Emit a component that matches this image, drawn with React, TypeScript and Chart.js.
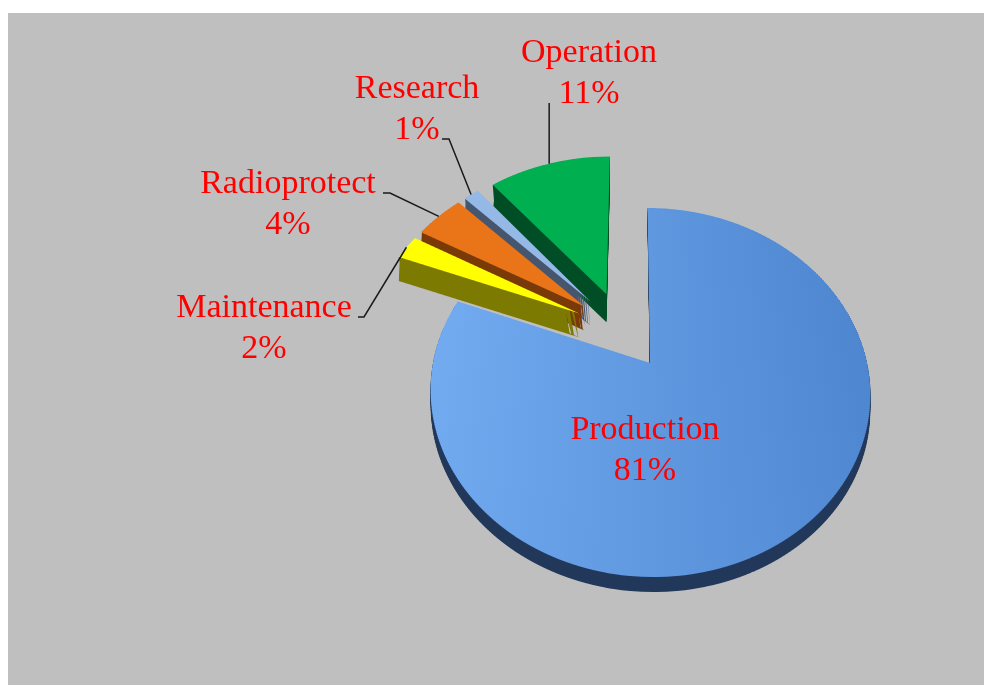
import React, { useEffect, useRef } from 'react';
import { Chart, registerables } from 'chart.js';

Chart.register(...registerables);

// ---- data ----
const CATEGORIES = ['Production', 'Maintenance', 'Radioprotect', 'Research', 'Operation'];
const VALUES = [80.9, 2.3, 4.4, 1.4, 11.0];

// ---- styles ----
const TOP_COLORS = ['#5c94df', '#ffff00', '#ea7518', '#95b9e6', '#00b050'];
const SIDE_COLORS = ['#22385a', '#7c7a00', '#7a3a08', '#46566e', '#004d26'];
const SIDE_DEPTH = [15, 24, 24, 24, 28];
const PROD_GRADIENT = ['#72abf0', '#4e86d0'];
const LABEL_COLOR = '#ff0000';
const LEADER_COLOR = '#1a1a1a';
const FONT = '34px "Liberation Serif", "Times New Roman", serif';
const LINE_GAP = 41;

// ---- view geometry (canvas px) ----
const CANVAS_W = 976;
const CANVAS_H = 672;
const RADIUS = 217;
const EXPLODE = 50;
const CAM_X = 624;
const APEX_Y = 350;
const CAM_U = 18;
const PERSP_A = 0.8286;
const PERSP_K = 0.000737;
const BAND = 2;
const DRAW_ORDER = [0, 4, 3, 2, 1];

const LABEL_POS: { x: number; y: number; leader: [number | null, number][] }[] = [
  { x: 637, y: 426, leader: [] },
  { x: 256, y: 304, leader: [[350, 304], [356, 304]] },
  { x: 280, y: 180, leader: [[375, 180], [382, 180]] },
  { x: 409, y: 85, leader: [[434, 126], [441, 126]] },
  { x: 581, y: 49, leader: [[null, 90]] },
];

const sOf = (v: number) => 1 / (1 - PERSP_K * v);
const yOf = (v: number) => APEX_Y + PERSP_A * v * sOf(v);
const vOf = (y: number) => (y - APEX_Y) / (PERSP_A + PERSP_K * (y - APEX_Y));

function frames(chart: any) {
  const meta = chart.getDatasetMeta(0);
  const els = meta.data as any[];
  const vec = els.map((el) => {
    const m = (el.startAngle + el.endAngle) / 2;
    return [EXPLODE * Math.cos(m), EXPLODE * Math.sin(m)];
  });
  return els.map((el, i) => ({
    el,
    cu: -el.x + vec[i][0] - vec[0][0] + CAM_U,
    cv: -el.y + vec[i][1] - vec[0][1],
  }));
}

function project(f: any, px: number, py: number) {
  const u = px + f.cu;
  const v = py + f.cv;
  const s = sOf(v);
  return [CAM_X + u * s, APEX_Y + PERSP_A * v * s];
}

function drawSlice(chart: any, f: any, sideColor: string, D: number) {
  const ctx = chart.ctx as CanvasRenderingContext2D;
  const pr = chart.currentDevicePixelRatio || 1;
  const el = f.el;
  const R = el.outerRadius;
  let minY = 0;
  let maxY = 0;
  for (let k = 0; k <= 96; k++) {
    const a = el.startAngle + ((el.endAngle - el.startAngle) * k) / 96;
    const yy = R * Math.sin(a);
    if (yy < minY) minY = yy;
    if (yy > maxY) maxY = yy;
  }
  const vMin = el.y + minY + f.cv;
  const vMax = el.y + maxY + f.cv;
  const yTop = Math.floor(yOf(vMin)) - 1;
  const yBot = Math.ceil(yOf(vMax)) + 1;
  const W = chart.width;

  const topBand = (y: number, shift: number) => {
    const ym = y + BAND / 2;
    const vm = vOf(ym);
    const s = sOf(vm);
    const yd = PERSP_A * s * s;
    ctx.save();
    ctx.setTransform(pr, 0, 0, pr, 0, 0);
    ctx.beginPath();
    ctx.rect(0, y + shift, W, BAND);
    ctx.clip();
    ctx.setTransform(pr * s, 0, 0, pr * yd, pr * (CAM_X + s * f.cu), pr * (ym + shift + yd * (f.cv - vm)));
    el.draw(ctx);
    ctx.restore();
  };

  // side walls (extruded downward)
  const orig = el.options;
  el.options = Object.assign({}, orig, { backgroundColor: sideColor, borderWidth: 0 });
  for (let y = yTop; y < yBot; y += BAND) {
    const v0 = vOf(y);
    const v1 = vOf(y + BAND);
    const s = sOf((v0 + v1) / 2);
    const h = BAND + D;
    const sy = h / (v1 - v0);
    ctx.save();
    ctx.setTransform(pr, 0, 0, pr, 0, 0);
    ctx.beginPath();
    ctx.rect(0, y, W, h);
    ctx.clip();
    ctx.setTransform(pr * s, 0, 0, pr * sy, pr * (CAM_X + s * f.cu), pr * (y + (f.cv - v0) * sy));
    el.draw(ctx);
    ctx.restore();
  }
  // smooth bottom outline of the wall
  for (let y = yTop; y < yBot; y += BAND) topBand(y, D);
  el.options = orig;

  // top face
  for (let y = yTop; y < yBot; y += BAND) topBand(y, 0);
}

const pie3d = {
  id: 'pie3d',
  beforeDatasetsDraw(chart: any) {
    const fr = frames(chart);
    DRAW_ORDER.forEach((i) => {
      if (fr[i]) drawSlice(chart, fr[i], SIDE_COLORS[i], SIDE_DEPTH[i]);
    });
    return false;
  },
};

const pieLabels = {
  id: 'pieLabels',
  afterDraw(chart: any) {
    const fr = frames(chart);
    const ctx = chart.ctx as CanvasRenderingContext2D;
    ctx.save();
    ctx.strokeStyle = LEADER_COLOR;
    ctx.lineWidth = 1.5;
    fr.forEach((f: any, i: number) => {
      const L = LABEL_POS[i];
      if (!L || !L.leader.length) return;
      const el = f.el;
      const m = (el.startAngle + el.endAngle) / 2;
      const [ax, ay] = project(f, el.x + el.outerRadius * Math.cos(m), el.y + el.outerRadius * Math.sin(m));
      ctx.beginPath();
      L.leader.forEach(([px, py], k) => {
        const X = px == null ? ax : px;
        if (k === 0) ctx.moveTo(X, py);
        else ctx.lineTo(X, py);
      });
      ctx.lineTo(ax, ay);
      ctx.stroke();
    });
    ctx.font = FONT;
    ctx.fillStyle = LABEL_COLOR;
    ctx.textAlign = 'center';
    ctx.textBaseline = 'alphabetic';
    CATEGORIES.forEach((name, i) => {
      const L = LABEL_POS[i];
      ctx.fillText(name, L.x, L.y);
      ctx.fillText(Math.round(VALUES[i]) + '%', L.x, L.y + LINE_GAP);
    });
    ctx.restore();
  },
};

export default function App() {
  const ref = useRef<HTMLCanvasElement | null>(null);
  useEffect(() => {
    if (!ref.current) return;
    const chart = new Chart(ref.current, {
      type: 'pie',
      data: {
        labels: CATEGORIES,
        datasets: [
          {
            data: VALUES,
            radius: RADIUS,
            borderWidth: 0,
            backgroundColor: (c: any) => {
              if (c.dataIndex !== 0) return TOP_COLORS[c.dataIndex];
              const area = c.chart.chartArea;
              if (!area) return TOP_COLORS[0];
              const cx = (area.left + area.right) / 2;
              const g = c.chart.ctx.createLinearGradient(cx - RADIUS, 0, cx + RADIUS, 0);
              g.addColorStop(0, PROD_GRADIENT[0]);
              g.addColorStop(1, PROD_GRADIENT[1]);
              return g;
            },
          } as any,
        ],
      },
      options: {
        animation: false,
        responsive: false,
        events: [],
        radius: RADIUS,
        layout: { padding: 0 },
        plugins: {
          legend: { display: false },
          tooltip: { enabled: false },
        },
      } as any,
      plugins: [pie3d, pieLabels],
    });
    return () => chart.destroy();
  }, []);
  return (
    <div style={{ position: 'absolute', left: 8, top: 13 }}>
      <canvas
        ref={ref}
        width={CANVAS_W}
        height={CANVAS_H}
        style={{ display: 'block', width: CANVAS_W, height: CANVAS_H, background: '#bfbfbf' }}
      />
    </div>
  );
}
